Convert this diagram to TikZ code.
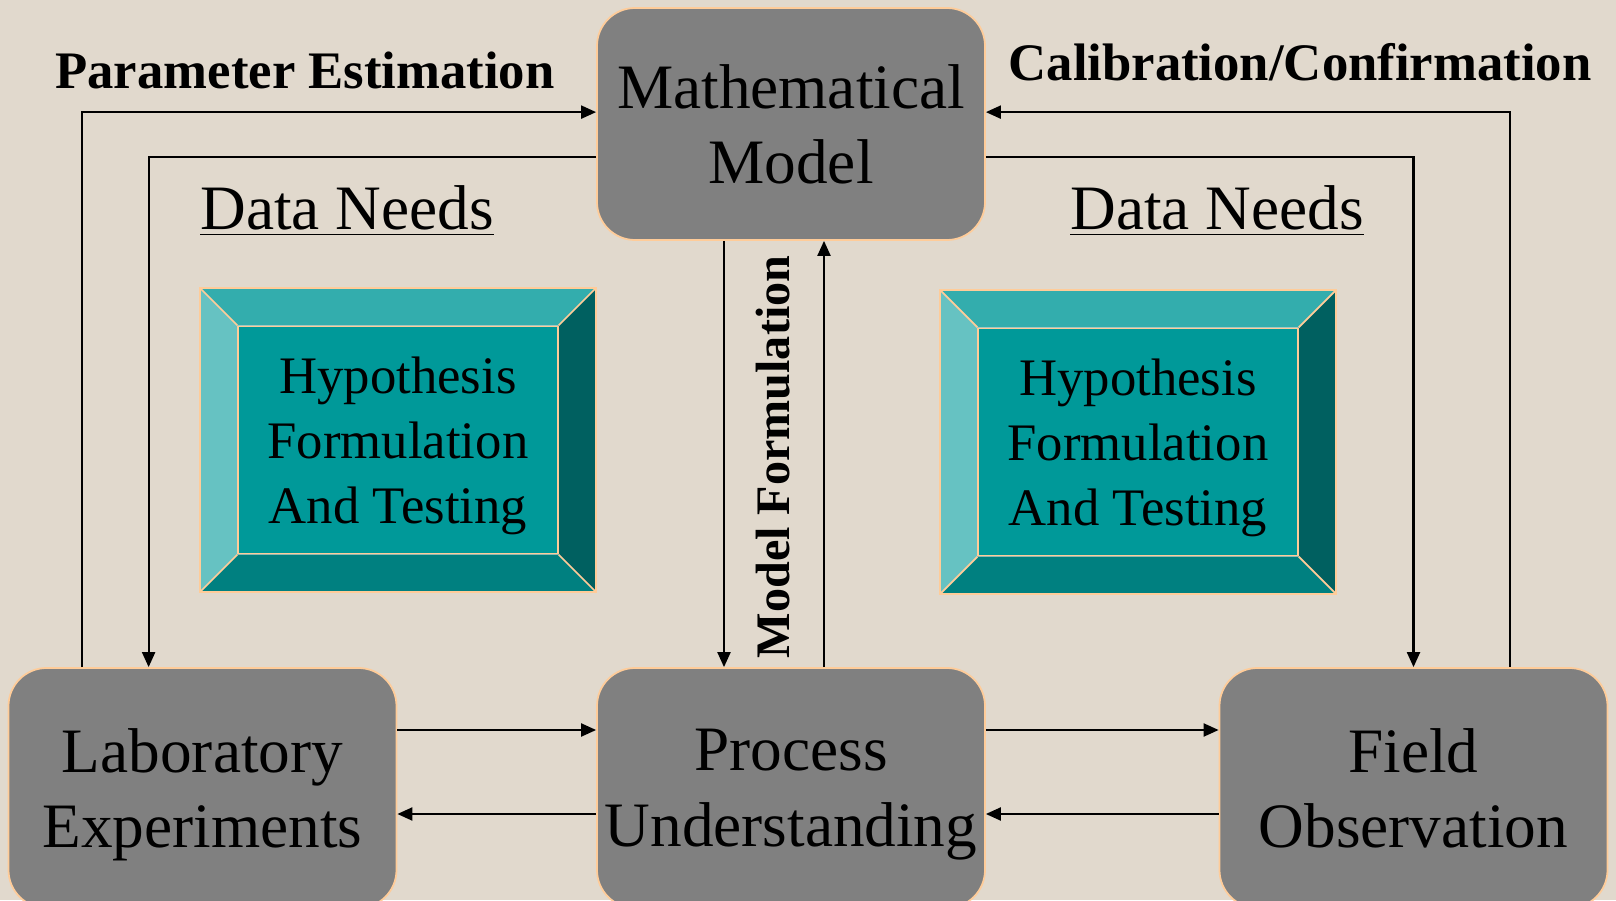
\documentclass[tikz,border=0pt]{standalone}
\usepackage{fontspec}
\setmainfont{Liberation Serif}
\usepackage{tikz}
\usetikzlibrary{arrows.meta}
\definecolor{paper}{RGB}{225,217,205}
\definecolor{boxgray}{RGB}{128,128,128}
\definecolor{peach}{RGB}{255,204,153}
\definecolor{tealtop}{RGB}{51,173,173}
\definecolor{tealleft}{RGB}{102,194,194}
\definecolor{tealright}{RGB}{0,96,96}
\definecolor{tealbottom}{RGB}{0,128,128}
\definecolor{tealmid}{RGB}{0,153,153}
\tikzset{stage/.style={draw=peach,fill=boxgray,line width=0.5pt,rounded corners=0.38cm,
   minimum width=3.88cm,inner sep=1pt,align=center,text depth=0pt,font=\fontsize{18}{21.5}\selectfont},
 frame/.style={minimum width=3.94cm,minimum height=3.02cm,inner sep=0pt},
 hyp/.style={draw=peach,fill=tealmid,line width=0.5pt,minimum width=3.2cm,minimum height=2.27cm,
   inner sep=1pt,align=center,text depth=-1.2pt,font=\fontsize{15}{18.5}\selectfont},
 facet/.style={draw=peach,line width=0.5pt},
 flow/.style={draw,line width=0.6pt,-{Triangle[length=1.5mm,width=1.3mm]}},
 tag/.style={font=\bfseries\fontsize{15}{18}\selectfont},
 needs/.style={font=\fontsize{18}{21}\selectfont},
 }

\begin{document}
\begin{tikzpicture}
        \useasboundingbox (0,0) rectangle (16.16,9);
        \clip (0,0) rectangle (16.16,9);
        \fill[paper] (0,0) rectangle (16.16,9);

        \node[stage,minimum height=2.32cm,text depth=-1.5pt] (math) at (7.91,7.76) {Mathematical\\Model};
        \node[stage,minimum height=2.40cm] (lab) at (2.025,1.12) {Laboratory\\Experiments};
        \node[stage,minimum height=2.40cm] (proc) at (7.91,1.12) {Process\\Understanding};
        \node[stage,minimum height=2.40cm] (field) at (14.135,1.12) {Field\\Observation};

        \node[frame] (frameL) at (3.98,4.60) {};
        \node[frame] (frameR) at (11.38,4.58) {};
        \foreach \s in {L,R} {
          \coordinate (nw\s) at ([shift={(0.37,-0.37)}]frame\s.north west);
          \coordinate (ne\s) at ([shift={(-0.37,-0.37)}]frame\s.north east);
          \coordinate (sw\s) at ([shift={(0.37,0.37)}]frame\s.south west);
          \coordinate (se\s) at ([shift={(-0.37,0.37)}]frame\s.south east);
          \fill[tealtop] (frame\s.north west) -- (frame\s.north east) -- (ne\s) -- (nw\s) -- cycle;
          \fill[tealleft] (frame\s.north west) -- (nw\s) -- (sw\s) -- (frame\s.south west) -- cycle;
          \fill[tealright] (frame\s.north east) -- (frame\s.south east) -- (se\s) -- (ne\s) -- cycle;
          \fill[tealbottom] (frame\s.south west) -- (sw\s) -- (se\s) -- (frame\s.south east) -- cycle;
          \draw[facet] (frame\s.north west) rectangle (frame\s.south east);
          \draw[facet] (frame\s.north west) -- (nw\s) (frame\s.north east) -- (ne\s)
                       (frame\s.south west) -- (sw\s) (frame\s.south east) -- (se\s);
        }
        \node[hyp] (hypL) at (frameL) {Hypothesis\\Formulation\\And Testing};
        \node[hyp] (hypR) at (frameR) {Hypothesis\\Formulation\\And Testing};

        \node[tag] (pe) at (3.05,8.30) {Parameter Estimation};
        \node[tag] (cal) at (13.00,8.38) {Calibration/Confirmation};
        \node[needs] (needsL) at (3.47,6.89) {\underline{Data Needs}};
        \node[needs] (needsR) at (12.17,6.89) {\underline{Data Needs}};
        \node[tag,rotate=90,font=\bfseries\fontsize{13.7}{17}\selectfont] (mf) at (7.73,4.43) {Model Formulation};

        \draw[flow] ([xshift=7.4mm]lab.north west) |- ([yshift=-10.5mm]math.north west);
        \draw[flow] ([yshift=-15mm]math.north west) -| ([xshift=14.1mm]lab.north west);
        \draw[flow] ([xshift=-6.7mm]math.south) -- ([xshift=-6.7mm]proc.north);
        \draw[flow] ([xshift=3.3mm]proc.north) -- ([xshift=3.3mm]math.south);
        \draw[flow] ([xshift=9.65mm]field.north) |- ([yshift=-10.5mm]math.north east);
        \draw[flow] ([yshift=-15mm]math.north east) -| (field.north);
        \draw[flow] ([yshift=5.8mm]lab.east) -- ([yshift=5.8mm]proc.west);
        \draw[flow] ([yshift=-2.6mm]proc.west) -- ([yshift=-2.6mm]lab.east);
        \draw[flow] ([yshift=5.8mm]proc.east) -- ([yshift=5.8mm]field.west);
        \draw[flow] ([yshift=-2.6mm]field.west) -- ([yshift=-2.6mm]proc.east);
\end{tikzpicture}
\end{document}
